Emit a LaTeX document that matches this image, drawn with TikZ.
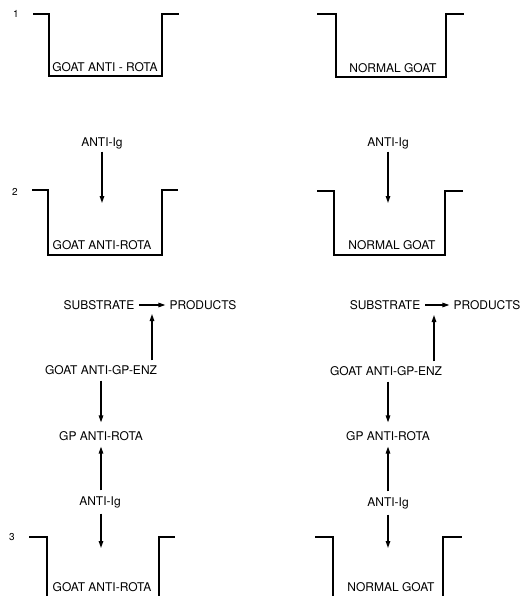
\documentclass[tikz,border=0pt]{standalone}
\usepackage{fontspec}
\setmainfont{TeX Gyre Heros}
\usetikzlibrary{arrows.meta}
\begin{document}
\begin{tikzpicture}[x=1pt,y=-1pt,
  lbl/.style={inner sep=0pt,text height=8.8pt,text depth=0pt,font=\fontsize{12}{14}\selectfont},
  wall/.style={line width=1.4pt,line join=miter},
  arr/.style={line width=1.3pt,-{Triangle[length=7pt,width=4.5pt]}},
  tag/.style={inner sep=0pt,font=\fontsize{10}{12}\selectfont}]
\useasboundingbox (0,0) rectangle (519,596);
% ---- row 1
\node[tag] (n1) at (16,14) {1};
\draw[wall] (33,14) -- (49,14) -- (49,76) -- (162,76) -- (162,14) -- (179,14);
\node[lbl] (w1l) at (105,67) {GOAT ANTI - ROTA};
\draw[wall] (317,14) -- (336,14) -- (336,77) -- (446,77) -- (446,14) -- (464,14);
\node[lbl] (w1r) at (393,68) {NORMAL GOAT};
% ---- row 2
\node[tag] (n2) at (15,192) {2};
\node[lbl] (ai2l) at (102,142) {ANTI-Ig};
\coordinate (e2l) at (102,203);
\draw[arr,shorten <=5pt] (ai2l.south) -- (e2l);
\draw[wall] (32,190) -- (48,190) -- (48,255) -- (162,255) -- (162,190) -- (178,190);
\node[lbl] (w2l) at (102,245) {GOAT ANTI-ROTA};
\node[lbl] (ai2r) at (388,142) {ANTI-Ig};
\coordinate (e2r) at (388,203);
\draw[arr,shorten <=5pt] (ai2r.south) -- (e2r);
\draw[wall] (317,191) -- (334,191) -- (334,255) -- (445,255) -- (445,191) -- (463,191);
\node[lbl] (w2r) at (392,245) {NORMAL GOAT};
% ---- row 3 left
\node[tag] (n3) at (12,537) {3};
\node[lbl] (subl) at (99,305) {SUBSTRATE};
\node[lbl] (prol) at (203,305) {PRODUCTS};
\draw[arr,shorten <=5pt,shorten >=4pt] (subl.east) -- (prol.west);
\node[lbl] (enzl) at (101,370) {GOAT ANTI-GP-ENZ};
\coordinate (ul) at (152,314);
\draw[arr,shorten <=5pt] (enzl.north -| ul) -- (ul);
\node[lbl] (gpl) at (101,436) {GP ANTI-ROTA};
\draw[arr,shorten <=6pt,shorten >=9pt] (enzl.south) -- (gpl.north);
\node[lbl] (ai3l) at (100,501) {ANTI-Ig};
\draw[arr,shorten <=6pt,shorten >=6pt] (ai3l.north -| gpl) -- (gpl.south);
\coordinate (e3l) at (101,548);
\draw[arr,shorten <=8pt] (ai3l.south -| e3l) -- (e3l);
\draw[wall] (29,537) -- (47,537) -- (47,597);
\draw[wall] (159,597) -- (159,537) -- (175,537);
\node[lbl] (w3l) at (102,587) {GOAT ANTI-ROTA};
% ---- row 3 right
\node[lbl] (subr) at (385,305) {SUBSTRATE};
\node[lbl] (pror) at (487,305) {PRODUCTS};
\draw[arr,shorten <=5pt,shorten >=4pt] (subr.east) -- (pror.west);
\node[lbl] (enzr) at (386,371) {GOAT ANTI-GP-ENZ};
\coordinate (ur) at (434,315);
\draw[arr,shorten <=5pt] (enzr.north -| ur) -- (ur);
\node[lbl] (gpr) at (388,436) {GP ANTI-ROTA};
\draw[arr,shorten <=6pt,shorten >=9pt] (enzr.south -| gpr) -- (gpr.north);
\node[lbl] (ai3r) at (388,502) {ANTI-Ig};
\draw[arr,shorten <=6pt,shorten >=6pt] (ai3r.north) -- (gpr.south);
\coordinate (e3r) at (388,548);
\draw[arr,shorten <=8pt] (ai3r.south) -- (e3r);
\draw[wall] (315,537) -- (333,537) -- (333,597);
\draw[wall] (443,597) -- (443,537) -- (462,537);
\node[lbl] (w3r) at (391,587) {NORMAL GOAT};
\end{tikzpicture}
\end{document}
